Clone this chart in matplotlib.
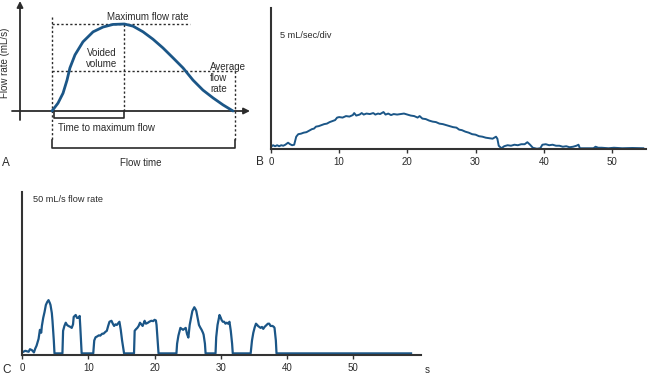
import matplotlib
matplotlib.use('Agg')
import matplotlib.pyplot as plt
import numpy as np

plt.rcParams['font.family'] = ['Liberation Sans', 'DejaVu Sans']

# ---------------- data ----------------
# Panel A: schematic uroflow curve (time s, flow mL/s)
a_time = [0.0, 0.33, 0.61, 0.83, 0.99, 1.27, 1.71, 2.27, 2.82, 3.37, 4.0,
          4.48, 5.03, 5.58, 6.13, 6.69, 7.24, 7.79, 8.34, 8.90, 9.45, 10.0]
a_flow = [0.0, 1.8, 4.1, 7.1, 9.9, 12.9, 15.9, 18.2, 19.3, 19.9, 20.0,
          19.5, 18.2, 16.5, 14.5, 12.2, 9.9, 7.1, 4.8, 3.0, 1.4, 0.0]
a_avg_flow = 9.2
a_labels = {'max': 'Maximum flow rate', 'vol': 'Voided\nvolume',
            'avg': 'Average\nflow\nrate', 'tmax': 'Time to maximum flow',
            'ftime': 'Flow time', 'ylab': 'Flow rate (mL/s)'}

# Panel B: normal-looking prolonged flow (time s, flow mL/s)
b_time = [0.0, 0.3, 0.6, 0.9, 1.2, 1.5, 1.8, 2.1, 2.5, 2.8, 3.1, 3.4, 3.7,
          4.0, 4.4, 4.8, 5.2, 5.6, 6.0, 6.3, 6.6, 7.0, 7.4, 7.8, 8.2, 8.6,
          9.0, 9.4, 9.7, 10.0, 10.5, 11.0, 11.5, 12.0, 12.2, 12.5, 13.0,
          13.3, 13.6, 14.0, 14.5, 15.0, 15.3, 15.7, 16.0, 16.5, 16.8, 17.2,
          17.6, 18.0, 18.5, 19.0, 19.5, 20.0, 20.5, 21.0, 21.5, 21.8, 22.2,
          22.7, 23.2, 23.7, 24.2, 24.7, 25.2, 25.7, 26.2, 26.7, 27.2, 27.6,
          28.0, 28.5, 29.0, 29.5, 30.0, 30.5, 31.0, 31.5, 32.0, 32.5, 33.0,
          33.2, 33.4, 33.8, 34.2, 34.7, 35.2, 35.7, 36.2, 36.7, 37.2, 37.6,
          38.0, 38.4, 39.0, 39.5, 39.8, 40.3, 40.8, 41.3, 41.8, 42.3, 42.8,
          43.3, 43.8, 44.3, 44.8, 45.1, 45.3, 46.5, 47.3, 47.6, 48.0, 48.5,
          49.5, 50.3, 51.5, 53.0, 54.6]
b_flow = [0.4, 0.7, 0.5, 0.7, 0.5, 0.7, 0.6, 0.8, 1.2, 0.9, 0.7, 0.8, 2.4,
          2.9, 3.0, 3.2, 3.3, 3.6, 3.9, 4.0, 4.4, 4.5, 4.7, 4.9, 5.0, 5.3,
          5.5, 5.7, 6.2, 6.3, 6.2, 6.5, 6.4, 6.7, 7.1, 6.6, 6.8,
          7.1, 6.8, 7.0, 6.9, 7.1, 6.8, 7.0, 6.9, 7.3, 6.8, 7.0,
          6.7, 6.9, 6.8, 6.9, 7.0, 6.8, 6.6, 6.5, 6.2, 6.5, 6.0,
          5.9, 5.6, 5.4, 5.3, 5.0, 4.9, 4.7, 4.5, 4.3, 4.2, 3.8,
          3.7, 3.4, 3.2, 2.9, 2.8, 2.5, 2.4, 2.2, 2.1, 2.0, 2.4,
          2.0, 0.6, 0.1, 0.5, 0.7, 0.6, 0.8, 0.7, 0.9, 0.9, 1.3,
          0.8, 0.2, 0.0, 0.1, 0.8, 0.9, 0.7, 0.8, 0.6, 0.6, 0.4,
          0.5, 0.3, 0.4, 0.6, 0.8, 0.1, 0.1, 0.1, 0.4, 0.2, 0.2,
          0.1, 0.2, 0.1, 0.15, 0.1]
b_ticks = [0, 10, 20, 30, 40, 50]
b_label = '5 mL/sec/div'

# Panel C: intermittent (staccato) flow (time s, flow mL/s)
c_time = [0.0, 0.5, 1.0, 1.2, 1.5, 1.8, 2.0, 2.2, 2.5, 2.7, 2.9, 3.0, 3.2,
          3.4, 3.6, 3.8, 4.0, 4.2, 4.3, 4.5, 4.6, 4.8, 4.9,
          6.1, 6.2, 6.4, 6.6, 6.8, 7.0, 7.3, 7.5, 7.7, 7.8, 8.1, 8.3, 8.5,
          8.7, 8.8, 9.0,
          10.75, 10.9, 11.1, 11.3, 11.6, 11.8, 12.1, 12.3, 12.6, 12.8, 13.0,
          13.2, 13.5, 13.7, 13.9, 14.1, 14.3, 14.5, 14.7, 14.9, 15.1, 15.4,
          16.9, 17.0, 17.2, 17.4, 17.6, 17.8, 18.0, 18.2, 18.4, 18.5, 18.7,
          19.0, 19.2, 19.5, 19.8, 20.0, 20.2, 20.3, 20.5, 20.6,
          23.3, 23.4, 23.6, 23.9, 24.1, 24.3, 24.5, 24.7, 24.9, 25.1, 25.3,
          25.5, 25.7, 26.0, 26.2, 26.3, 26.5, 26.7, 26.9, 27.1, 27.3, 27.4,
          27.6, 27.7,
          29.2, 29.3, 29.5, 29.8, 30.0, 30.1, 30.3, 30.5, 30.7, 30.9, 31.1,
          31.3, 31.5, 31.7, 31.8,
          34.5, 34.7, 34.9, 35.1, 35.3, 35.5, 35.6, 35.8, 36.0, 36.2, 36.4,
          36.6, 36.9, 37.1, 37.3, 37.5, 37.8, 38.0, 38.1, 38.3, 38.4, 58.7]
c_flow = [0.3, 0.8, 0.5, 1.3, 1.0, 0.3, 1.5, 2.4, 4.5, 7.3, 6.4, 8.5, 11.0,
          12.8, 15.0, 15.9, 16.5, 15.6, 15.0, 12.5, 10.1, 4.0, 0.0,
          0.0, 7.0, 8.5, 9.5, 8.8, 8.5, 8.2, 7.9, 9.0, 11.3, 11.9, 11.0, 11.0,
          11.6, 8.0, 0.0,
          0.0, 4.0, 5.0, 5.2, 5.6, 5.5, 6.1, 6.1, 6.7, 7.0, 8.5,
          9.8, 10.1, 9.2, 8.5, 9.0, 8.8, 9.3, 9.8, 7.3, 4.0, 0.0,
          0.0, 7.0, 7.5, 7.9, 8.5, 9.5, 9.0, 8.5, 9.5, 10.1, 9.2,
          9.5, 9.8, 10.1, 10.0, 10.4, 10.2, 8.8, 3.0, 0.0,
          0.0, 3.0, 5.5, 7.9, 7.6, 7.3, 7.6, 7.9, 6.0, 4.9, 8.8,
          11.0, 13.1, 14.3, 13.6, 13.1, 11.0, 8.8, 8.0, 7.3, 6.4, 5.8,
          3.0, 0.0,
          0.0, 5.0, 8.8, 11.9, 11.0, 10.4, 9.8, 9.8, 9.2, 9.5, 9.2,
          9.8, 7.0, 3.0, 0.0,
          0.0, 4.0, 6.4, 8.0, 9.2, 8.8, 8.5, 8.2, 7.9, 8.2, 7.6,
          8.2, 8.8, 9.2, 9.2, 8.5, 8.5, 8.2, 7.9, 4.0, 0.0, 0.0]
c_ticks = [0, 10, 20, 30, 40, 50]
c_label = '50 mL/s flow rate'

# ---------------- styling ----------------
W, H = 650, 378
LINE = '#1b5687'
INK = '#2b2b2b'
fig = plt.figure(figsize=(W / 100, H / 100), dpi=100)


def fx(x):
    return x / W


def fy(y):
    return 1 - y / H


# ---------------- Panel A ----------------
# pixel -> data mapping for layout of panel A (origin of flow at px (52,111))
X0, SX, Y0, SY = 52.0, 18.1, 111.0, 4.35
axA = fig.add_axes([0, fy(180), fx(250), 180 / H])
axA.set_xlim((0 - X0) / SX, (250 - X0) / SX)
axA.set_ylim((Y0 - 180) / SY, (Y0 - 0) / SY)
axA.axis('off')


def tA(x):
    return (x - X0) / SX


def fA(y):
    return (Y0 - y) / SY


arrow = dict(arrowstyle='-|>', color=INK, lw=1.3, mutation_scale=9,
             shrinkA=0, shrinkB=0)
axA.annotate('', xy=(tA(250), 0), xytext=(tA(12), 0), arrowprops=arrow,
             annotation_clip=False)
axA.annotate('', xy=(tA(20), fA(1)), xytext=(tA(20), fA(120)),
             arrowprops=arrow, annotation_clip=False)

i_max = int(np.argmax(a_flow))
t_max, f_max = a_time[i_max], a_flow[i_max]
t_end = a_time[-1] + 0.1
dot = dict(color=INK, lw=1.0, linestyle=(0, (1.6, 1.6)))
axA.plot([0, tA(190)], [f_max, f_max], **dot)
axA.plot([0, t_end], [a_avg_flow, a_avg_flow], **dot)
axA.plot([0, 0], [fA(17), fA(141)], **dot)
axA.plot([t_max, t_max], [0, f_max], **dot)
axA.plot([t_end, t_end], [a_avg_flow, fA(141)], **dot)
solid = dict(color=INK, lw=1.2)
axA.plot([0, 0, t_end, t_end], [fA(140), fA(148), fA(148), fA(140)], **solid)
axA.plot([tA(54), tA(54), t_max, t_max], [0, fA(118), fA(118), 0], **solid)

axA.plot(a_time, a_flow, color=LINE, lw=2.0, solid_capstyle='round', zorder=5)

ts = 7
fig.text(fx(107), fy(17), a_labels['max'], fontsize=ts, color=INK, va='center')
fig.text(fx(102), fy(58.5), a_labels['vol'], fontsize=ts, color=INK,
         va='center', ha='center', linespacing=1.1)
fig.text(fx(210), fy(78), a_labels['avg'], fontsize=ts, color=INK,
         va='center', ha='left', linespacing=1.1)
fig.text(fx(58), fy(128), a_labels['tmax'], fontsize=ts, color=INK, va='center')
fig.text(fx(141), fy(163), a_labels['ftime'], fontsize=ts, color=INK,
         va='center', ha='center')
fig.text(fx(5), fy(63), a_labels['ylab'], fontsize=ts, color=INK,
         va='center', ha='center', rotation=90)
fig.text(fx(2), fy(163), 'A', fontsize=8.5, color=INK, va='center')


def style_axis(ax, ticks):
    for s in ('top', 'right'):
        ax.spines[s].set_visible(False)
    for s in ('left', 'bottom'):
        ax.spines[s].set_color('#333333')
        ax.spines[s].set_linewidth(1.5)
    ax.set_yticks([])
    ax.set_xticks(ticks)
    ax.tick_params(axis='x', direction='out', length=3, width=1,
                   colors='#333333', labelsize=7, pad=3, labelcolor=INK)
    ax.patch.set_alpha(0)


# ---------------- Panel B ----------------
axB = fig.add_axes([fx(271), fy(149), 375 / W, 141 / H])
axB.plot(b_time, b_flow, color=LINE, lw=1.4)
axB.set_xlim(0, 55)
axB.set_ylim(-0.05, 28)
style_axis(axB, b_ticks)
fig.text(fx(280), fy(35), b_label, fontsize=6.6, color=INK, va='center')
fig.text(fx(256), fy(162), 'B', fontsize=8.5, color=INK, va='center')

# ---------------- Panel C ----------------
axC = fig.add_axes([fx(22), fy(355), 399 / W, 163 / H])
axC.plot(c_time, c_flow, color=LINE, lw=1.6)
axC.set_xlim(0, 60.2)
axC.set_ylim(-0.5, 50)
style_axis(axC, c_ticks)
fig.text(fx(33), fy(199), c_label, fontsize=6.6, color=INK, va='center')
fig.text(fx(2), fy(370), 'C', fontsize=8.5, color=INK, va='center')
fig.text(fx(425), fy(370), 's', fontsize=7, color=INK, va='center')

fig.savefig('out.png', dpi=100)
